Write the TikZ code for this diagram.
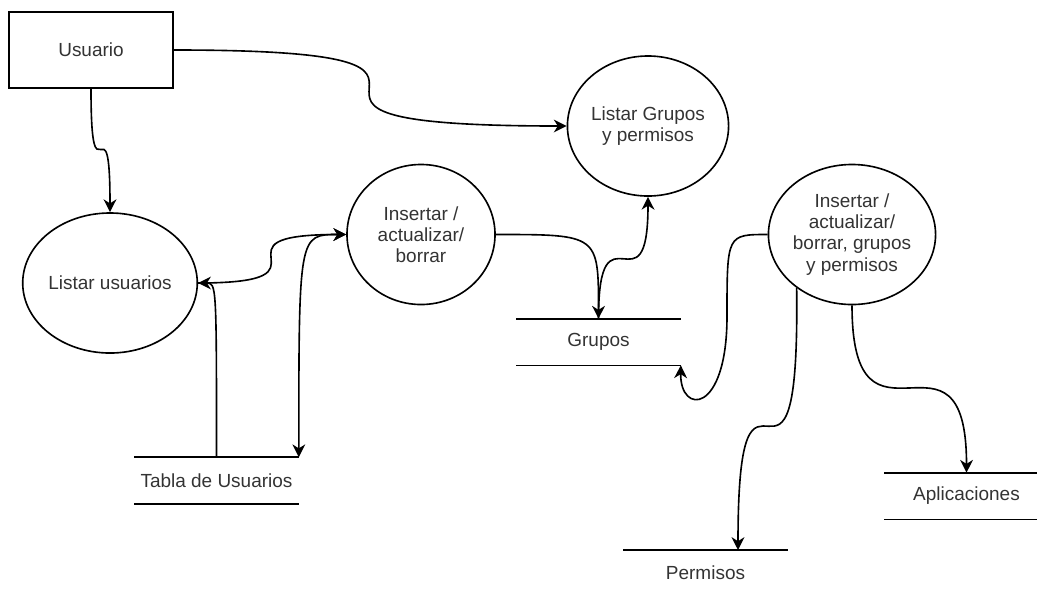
\documentclass[tikz,border=0pt]{standalone}
\usepackage{fontspec}
\setmainfont{Liberation Sans}
\usetikzlibrary{shapes.geometric,arrows.meta}
\tikzset{
  >={Stealth[length=0.32cm,width=0.32cm,inset=0.1cm]},
  ent/.style={draw, rectangle, minimum width=4.1cm, minimum height=1.9cm},
  proc/.style={draw, ellipse, minimum width=3.7cm, minimum height=3.5cm, inner sep=0pt, align=center},
  store/.style={minimum width=4.075cm, minimum height=1.125cm, inner sep=0pt}
}
\begin{document}
\begin{tikzpicture}[x=0.025cm, y=-0.025cm, line width=1.15pt, font=\fontsize{13.5}{15}\selectfont, text=black!80]
\useasboundingbox (0,0) rectangle (1037,594);

% entidad y procesos
\node[ent] (usr) at (91,50) {Usuario};
\node[proc] (lu) at (110,283) {Listar usuarios};
\node[proc] (ins) at (421,234.5) {Insertar /\\actualizar/\\borrar};
\node[proc] (lg) at (648,126) {Listar Grupos\\y permisos};
\node[proc] (rc) at (852,234.5) {Insertar /\\actualizar/\\borrar, grupos\\y permisos};

% almacenes de datos
\node[store] (tu) at (216.5,480.5) {Tabla de Usuarios};
\node[store] (gr) at (598.5,342) {Grupos};
\node[store] (ap) at (966.5,496) {Aplicaciones};
\node[store] (pe) at (705.5,573) {Permisos};
\foreach \s in {tu,gr,ap}
  \draw (\s.north west) -- (\s.north east) (\s.south west) -- (\s.south east);
\draw (pe.north west) -- (pe.north east);
\coordinate (pe-in) at (738,550);

% flujos
\draw[->] (usr.south) .. controls (usr.south |- lu.north) and (lu.north |- usr.south) .. (lu.north);
\draw[->] (usr.east) .. controls (lg.west |- usr.east) and (usr.east |- lg.west) .. (lg.west);
\draw[->] (lu.east) .. controls (ins.west |- lu.east) and (lu.east |- ins.west) .. (ins.west);
\draw[->] (tu.north) .. controls (tu.north |- lu.east) .. (lu.east);
\draw[<->] (tu.north east) .. controls (tu.north east |- ins.west) .. (ins.west);
\draw[->] (ins.east) .. controls (gr.north |- ins.east) .. (gr.north);
\draw[->] (gr.north) .. controls (gr.north |- lg.south) and (lg.south |- gr.north) .. (lg.south);
\draw[->] (rc.west) .. controls (727,234.5) .. (727,316) .. controls (727,415) and (680,415) .. (gr.south east);
\draw[->] (rc.224) .. controls (800,560) and (738,300) .. (pe-in);
\draw[->] (rc.south) .. controls (rc.south |- ap.north) and (ap.north |- rc.south) .. (ap.north);
\end{tikzpicture}
\end{document}
